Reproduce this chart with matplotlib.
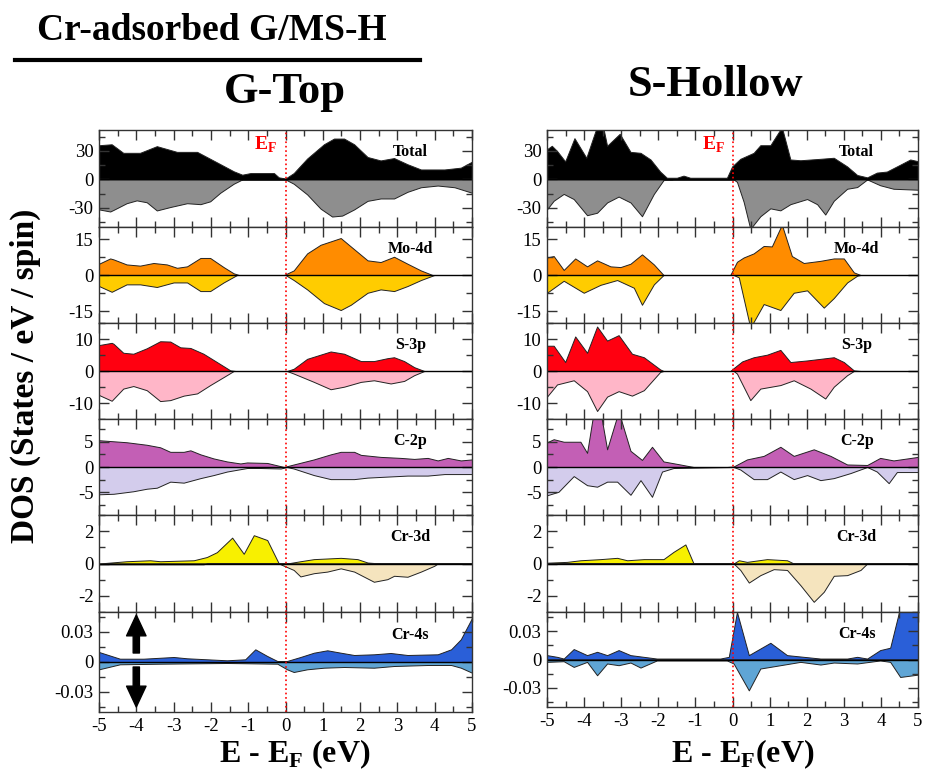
import numpy as np
import matplotlib.pyplot as plt
from matplotlib.ticker import MultipleLocator, FuncFormatter
from matplotlib.lines import Line2D

plt.rcParams['font.family'] = ['Liberation Serif', 'DejaVu Serif']
plt.rcParams['mathtext.fontset'] = 'custom'
plt.rcParams['mathtext.rm'] = 'Liberation Serif'
plt.rcParams['mathtext.bf'] = 'Liberation Serif:bold'
plt.rcParams['axes.unicode_minus'] = False

# ---- G-Top (left column) ----
gt_total_up_e = [-5, -4.66, -4.35, -3.9, -3.45, -2.91, -2.37, -1.84, -1.39, -1.16, -0.94, -0.31, -0.18, 0, 0.22, 0.58, 1.03, 1.30, 1.57, 1.84, 2.20, 2.55, 2.91, 3.27, 3.63, 4.26, 4.70, 5]
gt_total_up = [36, 37, 28, 28, 35, 29, 29, 18, 8.6, 5, 6.7, 6.7, 2.2, 1, 6.7, 22, 37, 43, 43, 37, 23.6, 20, 22.5, 16, 10.5, 10.5, 12.4, 18.7]
gt_total_dn_e = [-5, -4.70, -4.61, -4.26, -3.99, -3.72, -3.45, -3.09, -2.64, -2.28, -2.02, -1.75, -1.39, -1.16, 0, 0.22, 0.58, 0.94, 1.25, 1.52, 1.84, 2.20, 2.55, 2.91, 3.27, 3.63, 4.08, 4.53, 5]
gt_total_dn = [-31.5, -33.7, -32, -25, -22, -24, -32.6, -29, -25, -26, -23, -14, -4.5, 0, 0, -4.5, -15.7, -30.7, -39, -38, -31.5, -22.5, -20, -20, -13, -8.2, -6.4, -8.2, -14]

gt_mo_up_e = [-5, -4.70, -4.61, -4.26, -3.9, -3.54, -3.18, -2.91, -2.64, -2.28, -2.02, -1.66, -1.39, -1.25, -0.04, 0.22, 0.58, 0.94, 1.48, 1.75, 2.20, 2.55, 2.91, 3.27, 3.63, 3.94, 5]
gt_mo_up = [4.7, 6.9, 6.5, 4.4, 3.9, 5, 4.4, 3, 3.6, 7.1, 7.1, 3.3, 0.7, 0, 0, 1.9, 9, 12.6, 15.4, 11.9, 6.1, 5.4, 7.6, 4.7, 1.9, 0, 0]
gt_mo_dn_e = [-5, -4.66, -4.26, -3.9, -3.45, -3.00, -2.64, -2.28, -2.02, -1.66, -1.30, 0, 0.22, 0.58, 1.03, 1.48, 1.75, 2.20, 2.55, 2.91, 3.27, 3.63, 3.99, 5]
gt_mo_dn = [-4.6, -7, -3.9, -3.9, -5, -3.1, -3.1, -6.7, -6.7, -3.1, 0, 0, -2.1, -6, -11.7, -14.6, -12.4, -7.4, -6, -6.7, -4.6, -2.1, 0, 0]

gt_s_up_e = [-5, -4.66, -4.61, -4.35, -4.08, -3.72, -3.36, -3.09, -2.82, -2.55, -2.20, -1.84, -1.48, -1.34, 0.04, 0.22, 0.58, 1.21, 1.57, 2.02, 2.37, 2.73, 2.91, 3.18, 3.45, 3.72, 5]
gt_s_up = [8.1, 8.8, 8.5, 5.7, 5.4, 7.1, 9.3, 9.2, 7.4, 7.2, 5.4, 2.8, 0.2, 0, 0, 0.7, 3.8, 6.1, 5.4, 3.1, 3.1, 4.0, 4.3, 3.1, 1.2, 0, 0]
gt_s_dn_e = [-5, -4.66, -4.35, -4.08, -3.72, -3.36, -3.09, -2.73, -2.37, -2.02, -1.66, -1.39, 0.04, 0.22, 0.76, 1.21, 1.57, 2.02, 2.37, 2.82, 3.18, 3.45, 3.72, 5]
gt_s_dn = [-7.5, -9.3, -5.5, -4.7, -6, -9.4, -9.1, -7.7, -7, -4.4, -1.9, 0, 0, -0.8, -3.4, -5.7, -4.9, -3.4, -2.9, -3.9, -3.1, -1.3, 0, 0]

gt_c_up_e = [-5, -4.26, -3.72, -3.36, -3.09, -2.73, -2.55, -2.28, -1.93, -1.57, -1.21, -1.03, -0.49, -0.04, 0.22, 0.76, 1.21, 1.48, 1.84, 2.02, 2.55, 3.09, 3.45, 3.81, 4.08, 4.35, 4.70, 5]
gt_c_up = [5.3, 4.9, 4.4, 3.9, 3.0, 3.0, 3.3, 2.5, 1.7, 1.1, 0.7, 0.9, 0.8, 0, 0.5, 1.5, 2.5, 3.0, 3.0, 2.4, 2.0, 1.8, 1.6, 1.8, 1.3, 1.8, 1.3, 1.5]
gt_c_dn_e = [-5, -4.61, -4.08, -3.72, -3.45, -3.09, -2.73, -2.28, -1.93, -1.57, -1.03, -0.67, -0.13, 0.04, 0.22, 0.76, 1.21, 1.84, 2.20, 2.73, 3.27, 3.81, 4.26, 5]
gt_c_dn = [-5.4, -5.3, -4.8, -4.3, -4.1, -2.9, -3.1, -2.2, -1.6, -0.9, -0.2, -0.2, -0.3, 0, -0.3, -1.6, -2.4, -2.4, -2.1, -1.9, -1.7, -1.7, -1.4, -1.4]

gt_cr3d_up_e = [-5, -4.26, -3.63, -3.36, -2.46, -2.11, -1.84, -1.43, -1.12, -0.85, -0.49, -0.18, 0.04, 0.40, 0.76, 1.48, 1.93, 2.20, 2.55, 5]
gt_cr3d_up = [0, 0.14, 0.2, 0.14, 0.2, 0.4, 0.7, 1.6, 0.6, 1.75, 1.45, 0, 0, 0.14, 0.27, 0.35, 0.27, 0.06, 0, 0]
gt_cr3d_dn_e = [-5, -2.2, -2.1, -0.18, 0.22, 0.40, 0.76, 1.12, 1.48, 1.84, 2.37, 2.73, 2.91, 3.27, 3.63, 3.99, 4.08, 5]
gt_cr3d_dn = [-0.05, -0.05, 0, 0, -0.4, -0.8, -0.6, -0.5, -0.3, -0.5, -1.13, -0.97, -0.76, -0.82, -0.5, -0.14, 0, 0]

gt_cr4s_up_e = [-5, -4.44, -3.81, -3.0, -2.64, -1.57, -1.08, -0.81, -0.49, -0.22, 0.04, 0.40, 0.76, 1.12, 1.48, 1.84, 2.37, 2.82, 3.27, 4.08, 4.44, 4.70, 5]
gt_cr4s_up = [0.010, 0.0033, 0.0033, 0.005, 0.0037, 0.0017, 0.0027, 0.0127, 0.006, 0.001, 0.001, 0.005, 0.0093, 0.0117, 0.0093, 0.007, 0.0077, 0.009, 0.007, 0.0077, 0.0127, 0.0227, 0.044]
gt_cr4s_dn_e = [-5, -4.44, -3.36, -1.57, -0.22, 0.04, 0.22, 0.58, 1.03, 1.57, 2.37, 2.91, 3.81, 4.44, 4.70, 5]
gt_cr4s_dn = [-0.0073, -0.0023, -0.0017, -0.001, -0.0017, -0.0073, -0.010, -0.0073, -0.0057, -0.005, -0.0057, -0.004, -0.003, -0.003, -0.0057, -0.0107]

# ---- S-Hollow (right column) ----
sh_total_up_e = [-5, -4.87, -4.73, -4.51, -4.26, -3.94, -3.65, -3.47, -3.38, -3.04, -2.75, -2.48, -2.21, -1.95, -1.77, -1.50, -1.32, -1.14, -0.15, -0.01, 0.21, 0.57, 0.75, 1.02, 1.33, 1.56, 1.83, 2.37, 2.73, 3.09, 3.36, 3.63, 3.89, 4.16, 4.52, 4.79, 5]
sh_total_up = [31.8, 35.4, 30, 19, 43.4, 22.8, 56, 52, 35.4, 48, 29, 28, 21, 8.3, 1.8, 1.8, 4, 1.8, 1.8, 13.7, 21.7, 28, 36, 36, 55, 21, 20.2, 21.7, 22.8, 13.7, 4.7, 2.2, 7.2, 8.3, 15.5, 21, 19.2]
sh_total_dn_e = [-5, -4.82, -4.55, -4.28, -3.92, -3.65, -3.38, -3.07, -2.75, -2.44, -2.12, -1.86, -1.59, 0.03, 0.12, 0.30, 0.48, 0.75, 1.02, 1.29, 1.56, 2.01, 2.28, 2.50, 2.73, 3.09, 3.36, 3.63, 3.98, 4.34, 5]
sh_total_dn = [-31.4, -22.4, -15.2, -20.6, -37.6, -35, -24.2, -18, -24.2, -38.7, -15.2, -0.7, 0, 0, -2.5, -23.5, -52, -38.7, -30.4, -32.5, -26, -20.6, -26, -36.9, -22.4, -9.8, -8, 0, -6.1, -9.8, -10.8]

sh_mo_up_e = [-5, -4.82, -4.55, -4.24, -3.92, -3.65, -3.29, -3.02, -2.75, -2.44, -2.12, -1.86, -0.06, 0.12, 0.30, 0.57, 0.84, 1.06, 1.33, 1.60, 1.92, 2.37, 2.73, 3.0, 3.27, 3.45, 5]
sh_mo_up = [7.3, 7.9, 2.1, 6.9, 3.6, 6.1, 3.6, 3.3, 4.7, 8.6, 4.4, 0, 0, 5.5, 7.3, 9, 12.1, 11.9, 21, 7.9, 5, 5.9, 6.9, 6.9, 1.1, 0, 0]
sh_mo_dn_e = [-5, -4.55, -4.01, -3.56, -3.11, -2.66, -2.44, -2.12, -1.86, 0.03, 0.17, 0.48, 0.84, 1.29, 1.65, 2.01, 2.46, 2.73, 3.09, 3.36, 3.45, 5]
sh_mo_dn = [-7.4, -2.4, -7.4, -4.1, -2.1, -5.3, -12.4, -3.9, 0, 0, -1, -22, -12.1, -14.6, -7.4, -6.4, -13.6, -9.6, -3.1, -0.3, 0, 0]

sh_s_up_e = [-5, -4.82, -4.51, -4.24, -3.92, -3.65, -3.38, -3.07, -2.71, -2.39, -1.95, -1.86, -0.06, 0.03, 0.26, 0.57, 0.93, 1.29, 1.56, 2.01, 2.37, 2.73, 3.0, 3.27, 3.45, 5]
sh_s_up = [7.9, 7.9, 2.8, 10.8, 5.7, 13.9, 9.5, 11.2, 5.4, 4.3, 0.5, 0, 0, 0.9, 3.0, 4.3, 5.1, 6.6, 2.8, 3.3, 3.8, 4.3, 2.8, 0.2, 0, 0]
sh_s_dn_e = [-5, -4.73, -4.28, -3.92, -3.65, -3.38, -3.07, -2.71, -2.39, -1.95, -1.86, 0.03, 0.12, 0.48, 0.75, 1.29, 1.65, 2.10, 2.50, 2.73, 3.09, 3.27, 5]
sh_s_dn = [-8, -4.2, -2.9, -6.3, -12.5, -8, -6.3, -7.7, -6, -0.3, 0, 0, -0.8, -9.1, -5.5, -4.4, -2.9, -5.5, -8.6, -4.9, -1.3, 0, 0]

sh_c_up_e = [-5, -4.82, -4.55, -4.10, -3.92, -3.74, -3.56, -3.38, -3.07, -2.75, -2.44, -2.17, -1.86, -1.41, -1.05, -0.15, 0.03, 0.39, 0.84, 1.29, 1.65, 2.19, 2.64, 3.09, 3.63, 3.98, 4.34, 5]
sh_c_up = [4.9, 5.5, 5.0, 5.0, 2.8, 11, 11, 3.5, 11, 3.2, 1.4, 4.0, 1.1, 0.5, 0, 0, 0.1, 1.5, 2.2, 4.0, 2.2, 3.5, 2.2, 0.5, 0.4, 1.8, 1.3, 2.0]
sh_c_dn_e = [-5, -4.69, -4.28, -3.92, -3.65, -3.38, -3.11, -2.75, -2.48, -2.17, -1.90, -1.59, 0.03, 0.21, 0.57, 0.93, 1.29, 1.65, 2.01, 2.37, 2.73, 3.18, 3.63, 3.89, 4.21, 4.43, 5]
sh_c_dn = [-5.6, -4.9, -1.8, -3.6, -3.9, -2.9, -2.9, -5.5, -2.6, -5.9, -0.9, -0.2, 0, -0.5, -2.4, -2.4, -0.9, -2.4, -1.6, -2.6, -2.2, -1.2, 0, -0.9, -3.2, -1.0, -1.0]

sh_cr3d_up_e = [-5, -4.46, -4.10, -3.56, -3.11, -2.84, -2.39, -1.86, -1.59, -1.27, -1.05, 0.03, 0.17, 0.39, 0.93, 1.47, 1.65, 5]
sh_cr3d_up = [0.05, 0.1, 0.2, 0.27, 0.35, 0.2, 0.27, 0.27, 0.72, 1.18, 0, 0, 0.2, 0.1, 0.27, 0.2, 0, 0]
sh_cr3d_dn_e = [-5, 0.03, 0.21, 0.44, 0.75, 1.11, 1.47, 1.83, 2.19, 2.46, 2.73, 3.09, 3.45, 3.63, 5]
sh_cr3d_dn = [0, 0, -0.4, -1.18, -0.72, -0.35, -0.4, -1.34, -2.37, -1.75, -0.76, -0.72, -0.4, 0, 0]

sh_cr4s_up_e = [-5, -4.73, -4.55, -4.28, -3.92, -3.65, -3.38, -3.07, -2.75, -2.04, -0.33, -0.10, 0.12, 0.44, 1.02, 1.47, 2.37, 3.09, 3.36, 3.63, 3.98, 4.25, 4.52, 5]
sh_cr4s_up = [0.0046, 0.0028, 0.001, 0.011, 0.0046, 0.0081, 0.0046, 0.0099, 0.0046, 0.001, 0.001, 0.0028, 0.05, 0.0046, 0.0176, 0.0046, 0.001, 0.001, 0.0028, 0.001, 0.0099, 0.0124, 0.055, 0.055]
sh_cr4s_dn_e = [-5, -4.55, -4.28, -3.92, -3.65, -3.38, -3.07, -2.75, -2.48, -2.04, -0.15, 0.03, 0.44, 0.75, 1.29, 1.83, 2.37, 2.73, 3.36, 3.98, 4.25, 4.52, 5]
sh_cr4s_dn = [-0.0025, -0.0018, -0.0078, -0.0025, -0.0166, -0.0042, -0.006, -0.0032, -0.0085, -0.001, -0.001, -0.0042, -0.0325, -0.0095, -0.006, -0.0025, -0.0053, -0.0032, -0.0042, -0.001, -0.0025, -0.0184, -0.0159]

orbitals = ['Total', 'Mo-4d', 'S-3p', 'C-2p', 'Cr-3d', 'Cr-4s']
xticks = [-5, -4, -3, -2, -1, 0, 1, 2, 3, 4, 5]

# panel styling
ylims = [(-50, 52), (-20, 20), (-15, 15), (-9.5, 9.5), (-3, 3), (-0.05, 0.05)]
major_step = [30, 15, 10, 5, 2, 0.03]
minor_step = [15, 7.5, 5, 2.5, 1, 0.015]
up_colors = ['black', '#ff8c00', '#ff0010', '#c35fb5', '#f8f000', '#2a5fd8']
dn_colors = ['#8e8e8e', '#ffcc00', '#ffb6c8', '#d3ccec', '#f5e4be', '#5fa5d5']

gt_series = [
    (gt_total_up_e, gt_total_up, gt_total_dn_e, gt_total_dn),
    (gt_mo_up_e, gt_mo_up, gt_mo_dn_e, gt_mo_dn),
    (gt_s_up_e, gt_s_up, gt_s_dn_e, gt_s_dn),
    (gt_c_up_e, gt_c_up, gt_c_dn_e, gt_c_dn),
    (gt_cr3d_up_e, gt_cr3d_up, gt_cr3d_dn_e, gt_cr3d_dn),
    (gt_cr4s_up_e, gt_cr4s_up, gt_cr4s_dn_e, gt_cr4s_dn),
]
sh_series = [
    (sh_total_up_e, sh_total_up, sh_total_dn_e, sh_total_dn),
    (sh_mo_up_e, sh_mo_up, sh_mo_dn_e, sh_mo_dn),
    (sh_s_up_e, sh_s_up, sh_s_dn_e, sh_s_dn),
    (sh_c_up_e, sh_c_up, sh_c_dn_e, sh_c_dn),
    (sh_cr3d_up_e, sh_cr3d_up, sh_cr3d_dn_e, sh_cr3d_dn),
    (sh_cr4s_up_e, sh_cr4s_up, sh_cr4s_dn_e, sh_cr4s_dn),
]

W, H = 927, 773
fig = plt.figure(figsize=(W / 100, H / 100), dpi=100)

fmt = FuncFormatter(lambda v, p: '0' if abs(v) < 1e-9 else '%g' % round(v, 4))


def draw_column(x0, x1, edges, series, ef_x):
    axes = []
    for i in range(6):
        top, bot = edges[i], edges[i + 1]
        ax = fig.add_axes([x0 / W, 1 - bot / H, (x1 - x0) / W, (bot - top) / H])
        eu, u, ed, d = series[i]
        ax.fill_between(eu, 0, u, facecolor=up_colors[i], edgecolor='#222222', lw=0.7)
        ax.fill_between(ed, 0, d, facecolor=dn_colors[i], edgecolor='#222222', lw=0.7)
        ax.axhline(0, color='black', lw=1.0)
        ax.axvline(0, color='red', ls=':', lw=1.2)
        ax.set_xlim(-5, 5)
        ax.set_ylim(*ylims[i])
        ax.set_xticks(xticks)
        ax.xaxis.set_minor_locator(MultipleLocator(0.5))
        ax.yaxis.set_major_locator(MultipleLocator(major_step[i]))
        ax.yaxis.set_minor_locator(MultipleLocator(minor_step[i]))
        ax.yaxis.set_major_formatter(fmt)
        ax.xaxis.set_major_formatter(fmt)
        ax.tick_params(which='both', direction='in', top=True, right=True,
                       labelsize=13.5, pad=4, color='#333333')
        ax.tick_params(which='major', length=7, width=1)
        ax.tick_params(which='minor', length=4, width=1)
        if i < 5:
            ax.tick_params(labelbottom=False)
        for sp in ax.spines.values():
            sp.set_linewidth(1.0)
            sp.set_color('#333333')
        ax.text(0.835, 0.77, orbitals[i], transform=ax.transAxes, ha='center',
                va='center', fontsize=11.5, fontweight='bold')
        axes.append(ax)
    axes[0].text(ef_x, 36, r'E$_\mathbf{F}$', color='red', fontsize=14,
                 fontweight='bold', ha='center', va='center')
    return axes


left_axes = draw_column(99, 472, [130, 227, 323, 419, 515, 612, 712], gt_series, -0.55)
right_axes = draw_column(547, 918, [130, 227, 323, 419, 515, 612, 707], sh_series, -0.52)

# spin arrows
ax4s = left_axes[5]
ax4s.annotate('', xy=(-4, 0.047), xytext=(-4, 0.009),
              arrowprops=dict(facecolor='black', edgecolor='black', width=4.5,
                              headwidth=14, headlength=15, shrink=0))
ax4s.annotate('', xy=(-4, -0.045), xytext=(-4, -0.005),
              arrowprops=dict(facecolor='black', edgecolor='black', width=4.5,
                              headwidth=14, headlength=15, shrink=0))

# titles and labels
fig.text(212 / W, 1 - 30 / H, 'Cr-adsorbed G/MS-H', ha='center', va='center',
         fontsize=27, fontweight='bold')
fig.add_artist(Line2D([15 / W, 420 / W], [1 - 60 / H, 1 - 60 / H], color='black', lw=3))
fig.text(285 / W, 1 - 92 / H, 'G-Top', ha='center', va='center', fontsize=32, fontweight='bold')
fig.text(716 / W, 1 - 85 / H, 'S-Hollow', ha='center', va='center', fontsize=32, fontweight='bold')
fig.text(25 / W, 1 - 376 / H, 'DOS (States / eV / spin)', ha='center', va='center',
         rotation=90, fontsize=24, fontweight='bold')
fig.text(295 / W, 1 - 771 / H, r'E - E$_\mathbf{F}$ (eV)', ha='center', va='bottom',
         fontsize=23, fontweight='bold')
fig.text(743 / W, 1 - 771 / H, r'E - E$_\mathbf{F}$(eV)', ha='center', va='bottom',
         fontsize=23, fontweight='bold')

fig.savefig('out.png', dpi=100)
